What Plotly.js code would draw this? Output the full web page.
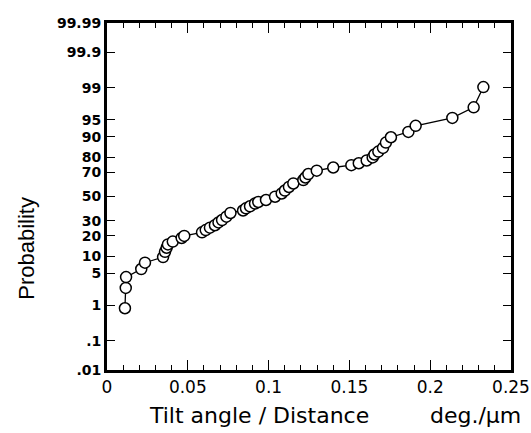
<!DOCTYPE html>
<html>
<head>
<meta charset="utf-8">
<script src="https://cdn.plot.ly/plotly-3.0.1.min.js"></script>
<style>html,body{margin:0;padding:0;background:#fff;}#chart{width:531px;height:433px;}</style>
</head>
<body>
<div id="chart"></div>
<script>
// Tilt angle / Distance (deg./um)
var tiltRate = [0.0111,0.0116,0.0118,0.0212,0.0235,0.0347,0.0359,0.0369,0.0377,0.0407,
  0.0462,0.0478,0.0588,0.0611,0.0637,0.0668,0.0690,0.0712,0.0739,0.0764,
  0.0842,0.0860,0.0885,0.0916,0.0936,0.0984,0.1040,0.1081,0.1101,0.1126,
  0.1153,0.1215,0.1228,0.1246,0.1298,0.1400,0.1512,0.1558,0.1607,0.1644,
  0.1655,0.1679,0.1708,0.1726,0.1757,0.1865,0.1910,0.2137,0.2269,0.2329];
// Cumulative probability (%)
var probability = [0.83,2.5,4.2,6.0,7.8,9.7,11.8,13.6,15.2,16.7,
  18.7,19.9,22.1,23.6,25.2,26.9,28.9,30.7,33.3,36.2,
  38.2,40.0,41.7,44.0,45.3,47.0,49.8,52.6,55.1,58.1,
  61.0,63.8,65.8,68.5,71.0,73.3,74.9,76.2,78.0,79.9,
  81.6,83.2,85.1,87.6,89.8,91.7,93.5,95.4,97.2,99.05];
var probTicks = [0.01,0.1,1,5,10,20,30,50,70,80,90,95,99,99.9,99.99];
var probTickText = ['.01','.1','1','5','10','20','30','50','70','80','90','95','99','99.9','99.99'];
var xTickVals = [0,0.05,0.1,0.15,0.2,0.25];
var xTickText = ['0','0.05','0.1','0.15','0.2','0.25'];

// inverse standard normal CDF (Acklam)
function probit(p){
  var a=[-3.969683028665376e+01,2.209460984245205e+02,-2.759285104469687e+02,1.383577518672690e+02,-3.066479806614716e+01,2.506628277459239e+00];
  var b=[-5.447609879822406e+01,1.615858368580409e+02,-1.556989798598866e+02,6.680131188771972e+01,-1.328068155288572e+01];
  var c=[-7.784894002430293e-03,-3.223964580411365e-01,-2.400758277161838e+00,-2.549732539343734e+00,4.374664141464968e+00,2.938163982698783e+00];
  var d=[7.784695709041462e-03,3.224671290700398e-01,2.445134137142996e+00,3.754408661907416e+00];
  var pl=0.02425,q,r;
  if(p<pl){q=Math.sqrt(-2*Math.log(p));return (((((c[0]*q+c[1])*q+c[2])*q+c[3])*q+c[4])*q+c[5])/((((d[0]*q+d[1])*q+d[2])*q+d[3])*q+1);}
  if(p>1-pl){q=Math.sqrt(-2*Math.log(1-p));return -(((((c[0]*q+c[1])*q+c[2])*q+c[3])*q+c[4])*q+c[5])/((((d[0]*q+d[1])*q+d[2])*q+d[3])*q+1);}
  q=p-0.5;r=q*q;
  return (((((a[0]*r+a[1])*r+a[2])*r+a[3])*r+a[4])*r+a[5])*q/(((((b[0]*r+b[1])*r+b[2])*r+b[3])*r+b[4])*r+1);
}
var yVals = probability.map(function(p){return probit(p/100);});
var yTickVals = probTicks.map(function(p){return probit(p/100);});
var yMin = probit(0.0001), yMax = probit(0.9999);

var font = 'DejaVu Sans, Liberation Sans, Arial, sans-serif';
var trace = {
  x: tiltRate, y: yVals, type:'scatter', mode:'lines+markers',
  line:{color:'#000', width:1.3},
  marker:{symbol:'circle', size:11, color:'#fff', line:{color:'#000', width:1.5}},
  hoverinfo:'skip'
};
var layout = {
  width:531, height:433,
  margin:{l:107, r:20, t:23, b:63, pad:0},
  paper_bgcolor:'#fff', plot_bgcolor:'#fff',
  showlegend:false,
  xaxis:{
    range:[0,0.25], tickmode:'array', tickvals:xTickVals, ticktext:xTickText,
    ticks:'inside', ticklen:10, tickwidth:1, tickcolor:'#000',
    minor:{dtick:0.01, ticks:'inside', ticklen:5, tickwidth:1, tickcolor:'#000'},
    showline:true, linecolor:'#000', linewidth:3, mirror:'ticks',
    showgrid:false, zeroline:false,
    tickfont:{family:font, size:17, color:'#000'}
  },
  yaxis:{
    range:[yMin,yMax], tickmode:'array', tickvals:yTickVals, ticktext:probTickText,
    ticks:'inside', ticklen:8, tickwidth:1, tickcolor:'#000',
    showline:true, linecolor:'#000', linewidth:3, mirror:'ticks',
    showgrid:false, zeroline:false,
    tickfont:{family:font, size:14, color:'#000', weight:'bold'}
  },
  annotations:[
    {text:'Probability', xref:'paper', yref:'paper', x:-0.2, y:0.35, xanchor:'center', yanchor:'middle',
     textangle:-90, showarrow:false, font:{family:'Liberation Sans, Arial, sans-serif', size:22, color:'#000'}},
    {text:'Tilt angle / Distance', xref:'paper', yref:'paper', x:0.1, y:-0.13, xanchor:'left', yanchor:'middle',
     showarrow:false, font:{family:font, size:22, color:'#000'}},
    {text:'deg./μm', xref:'paper', yref:'paper', x:1.03, y:-0.13, xanchor:'right', yanchor:'middle',
     showarrow:false, font:{family:font, size:22, color:'#000'}}
  ]
};
Plotly.newPlot('chart',[trace],layout,{displayModeBar:false, staticPlot:true});
</script>
</body>
</html>
